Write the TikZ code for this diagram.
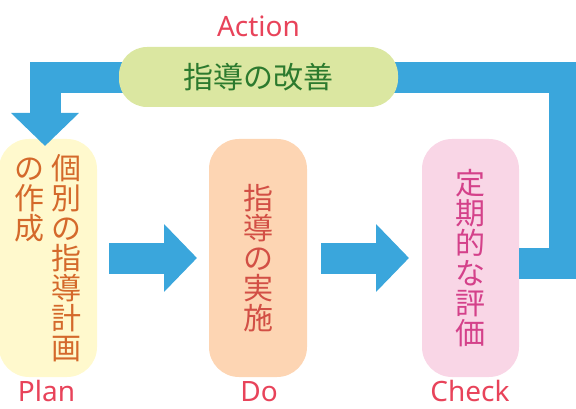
\documentclass[tikz,border=0pt]{standalone}
\usepackage{fontspec}
\setmainfont{Noto Sans}
\newfontfamily\jpfont{Noto Sans CJK JP}
\usepackage{tikz}
\usetikzlibrary{arrows.meta, positioning}

\definecolor{flowblue}{HTML}{3AA6DC}
\definecolor{planfill}{HTML}{FFF9CD}
\definecolor{dofill}{HTML}{FDD5B3}
\definecolor{checkfill}{HTML}{F9D6E6}
\definecolor{actfill}{HTML}{DBE7A1}
\definecolor{plantext}{HTML}{D4692B}
\definecolor{dotext}{HTML}{D24F45}
\definecolor{checktext}{HTML}{D4418A}
\definecolor{acttext}{HTML}{2C7A2E}
\definecolor{labelred}{HTML}{E8435A}

\newcommand{\tatecol}[1]{\parbox[t]{30pt}{\centering #1}}

\begin{document}
\begin{tikzpicture}[x=1pt, y=-1pt]
		\tikzstyle{every node} = [inner sep = 0pt, outer sep = 0pt]
		\tikzstyle{stage} = [rounded corners = 30pt, minimum width = 98pt,
			minimum height = 238pt, align = center,
			font = \jpfont\fontsize{30}{30}\selectfont]
		\tikzstyle{phase} = [anchor = base, text = labelred,
			font = \fontsize{28}{28}\selectfont]
		\tikzstyle{flow} = [draw = flowblue, line width = 31pt,
			line join = miter,
			-{Triangle[length = 33pt, width = 66pt]}]
				\useasboundingbox (0,0) rectangle (576,409);
				% the three stages
				\node[stage, fill = planfill, text = plantext] (plan) at (48,258)
					{\tatecol{の\\作\\成}\hspace{7.5pt}\tatecol{個\\別\\の\\指\\導\\計\\画}};
				\node[stage, fill = dofill, text = dotext] (do) at (258,258)
					{指\\導\\の\\実\\施};
				\node[stage, fill = checkfill, text = checktext,
					minimum width = 97pt] (check) at (470.5,258)
					{定\\期\\的\\な\\評\\価};
				\path[flow] ([xshift = 12pt]plan.east) --
					([xshift = -12pt]do.west);
				\path[flow] ([xshift = 14pt]do.east) --
					([xshift = -13pt]check.west);
				% feedback loop
				\coordinate (turnR) at (564.5,77.5);
				\coordinate (turnL) at (45,77.5);
				\coordinate (tip) at (45,146);
				\path[flow] ([yshift = -5.5pt]check.east) -| (turnR) --
					(turnL) -- (tip);
				\node[rounded corners = 28pt, fill = actfill, text = acttext,
					minimum width = 279pt, minimum height = 60pt,
					font = \jpfont\fontsize{30}{30}\selectfont] (act) at (258.5,77)
					{指導の改善};
				% labels
				\node[phase] (actlabel) at (258.5,37) {Action};
				\node[phase] (planlabel) at (46.5,401) {Plan};
				\node[phase] (dolabel) at (259,401) {Do};
				\node[phase] (checklabel) at (470,401) {Check};
	\end{tikzpicture}
\end{document}
